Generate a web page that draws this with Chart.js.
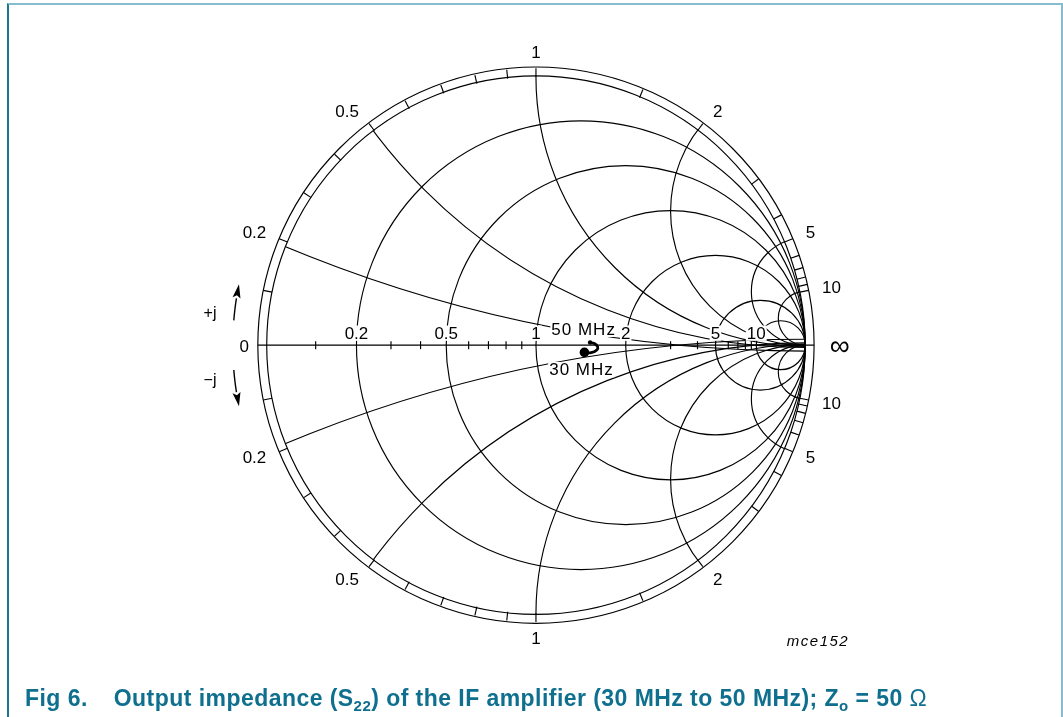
<!DOCTYPE html>
<html>
<head>
<meta charset="utf-8">
<title>Fig 6 - Output impedance (S22)</title>
<script src="https://cdn.jsdelivr.net/npm/chart.js@4.4.0/dist/chart.umd.min.js"></script>
<style>
  html,body{margin:0;padding:0;background:#fff;}
  #page{position:relative;width:1063px;height:717px;overflow:hidden;font-family:"Liberation Sans",Arial,sans-serif;}
  #frame{position:absolute;left:7px;top:3px;width:1052px;height:760px;border-left:2px solid #1b7892;border-right:2px solid #86bccd;border-top:2px solid #86bccd;}
  #smith{position:absolute;left:0;top:0;}
  #caption{position:absolute;left:25px;top:687px;font-weight:bold;font-size:23px;line-height:23px;color:#0f6f8f;white-space:pre;letter-spacing:0.45px;}
  #caption sub{font-size:15px;vertical-align:-5px;line-height:0;}
  #caption .gap{display:inline-block;width:26px;}
  #caption .om{font-weight:normal;}
</style>
</head>
<body>
<div id="page">
  <div id="frame"></div>
  <canvas id="smith" width="1063" height="717"></canvas>
  <div id="caption">Fig 6.<span class="gap"></span>Output impedance (S<sub>22</sub>) of the IF amplifier (30 MHz to 50 MHz); Z<sub>o</sub> = 50 <span class="om">Ω</span></div>
</div>
<script>
/* ---- data (reflection coefficient) ---- */
const freqMHz = [30, 34, 38, 42, 46, 50];
const gammaRe = [0.180, 0.205, 0.226, 0.229, 0.217, 0.201];
const gammaIm = [-0.027, -0.028, -0.018, -0.006, 0.006, 0.010];
const freqLabels = ['30 MHz', '50 MHz'];

/* ---- smith chart grid values ---- */
const rCircles = [0.2, 0.5, 1, 2, 5, 10];
const xArcs = [0.2, 0.5, 1, 2, 5, 10];
const rLabels = ['0.2', '0.5', '1', '2', '5', '10'];
const xLabels = ['0.2', '0.5', '1', '2', '5', '10'];
const axisTicks = [0.1, 0.3, 0.4, 0.6, 0.7, 0.8, 0.9, 3, 4, 6, 7, 8, 9];
const rimTicks = [0.1, 0.2, 0.3, 0.4, 0.5, 0.6, 0.7, 0.8, 0.9, 1, 1.5, 2, 3, 4, 5, 6, 7, 8, 9, 10];

/* ---- layout ---- */
const W = 1063, H = 717, CX = 536, CY = 345, RPX = 271.7, RING = 1.033;
const FONT = '"Liberation Sans", Arial, sans-serif';

function tag(ctx, txt, x, y, size, bg, spacing){
    ctx.font = size + 'px ' + FONT;
    ctx.letterSpacing = (spacing || 0) + 'px';
    const w = ctx.measureText(txt).width;
    if(bg){ ctx.fillStyle = '#fff'; ctx.fillRect(x - w/2 - 1, y - size*0.45, w + 2, size*0.9); }
    ctx.fillStyle = '#000'; ctx.textAlign = 'center'; ctx.textBaseline = 'middle';
    ctx.fillText(txt, x, y + 1);
    ctx.letterSpacing = '0px';
    return w;
}

const smithPlugin = {
    id: 'smith',
    beforeDatasetsDraw(chart){
        const ctx = chart.ctx, sx = chart.scales.x, sy = chart.scales.y;
        const X = v => sx.getPixelForValue(v), Y = v => sy.getPixelForValue(v);
        const cx = X(0), cy = Y(0), R = X(1) - cx;
        const circle = (x, y, r) => { ctx.beginPath(); ctx.arc(x, y, r, 0, 2*Math.PI); ctx.stroke(); };
        const line = (x1, y1, x2, y2) => { ctx.beginPath(); ctx.moveTo(x1, y1); ctx.lineTo(x2, y2); ctx.stroke(); };
        ctx.save();
        ctx.strokeStyle = '#000'; ctx.lineWidth = 1.15;

        // rim + outer scale ring
        circle(cx, cy, R); circle(cx, cy, R*RING);
        line(X(-RING), cy, X(RING), cy);

        // constant resistance circles
        rCircles.forEach(r => circle(X(r/(1+r)), cy, R/(1+r)));

        // constant reactance arcs, clipped to |gamma| = 1
        ctx.save();
        ctx.beginPath(); ctx.arc(cx, cy, R, 0, 2*Math.PI); ctx.clip();
        xArcs.forEach(v => { circle(X(1), Y(1/v), R/v); circle(X(1), Y(-1/v), R/v); });
        ctx.restore();

        // ticks in the outer ring
        rimTicks.forEach(v => [v, -v].forEach(s => {
            const d = s*s + 1, ux = (s*s - 1)/d, uy = 2*s/d;
            line(X(ux), Y(uy), X(ux*RING), Y(uy*RING));
        }));
        // ticks on the real axis
        axisTicks.forEach(r => { const g = (r - 1)/(r + 1); line(X(g), cy - 4, X(g), cy + 4); });

        // resistance labels on the axis
        rCircles.forEach((r, i) => tag(ctx, rLabels[i], X((r - 1)/(r + 1)), cy - 12, 17, true));

        // reactance labels round the rim
        ctx.font = '17px ' + FONT;
        xArcs.forEach((v, i) => [1, -1].forEach(sg => {
            const d = v*v + 1, ux = (v*v - 1)/d, uy = 2*v/d;
            const w = ctx.measureText(xLabels[i]).width;
            const px = cx + 1.065*R*ux + (Math.abs(ux) > 0.01 ? (w/2 + 5)*Math.sign(ux) : 0);
            const py = cy - sg*(1.065*R*uy + 6*uy);
            tag(ctx, xLabels[i], px, py, 17, false);
        }));
        tag(ctx, '0', cx - 1.065*R - 5, cy + 1, 17, false);
        tag(ctx, '\u221e', cx + 1.08*R + 13, cy + 1, 28, false);

        // frequency markers
        tag(ctx, freqLabels[1], X(0.177), Y(0.059), 17, true, 1);
        tag(ctx, freqLabels[0], X(0.169), Y(-0.091), 17, true, 1);

        // +j / -j direction arrows
        const arrow = (a0, a1) => {
            const ra = 1.126*R, rad = Math.PI/180;
            const pt = (a, r) => [cx + r*Math.cos(a*rad), cy - r*Math.sin(a*rad)];
            const dir = Math.sign(a1 - a0), aBase = a1 - dir*2.6;
            ctx.lineWidth = 1.4;
            ctx.beginPath();
            for(let a = a0; dir*(a - aBase) <= 0; a += dir*0.2){ const p = pt(a, ra); ctx.lineTo(p[0], p[1]); }
            ctx.stroke();
            const t = pt(a1, ra), b1 = pt(aBase, ra - 4), b2 = pt(aBase, ra + 4), m = pt(aBase + dir*0.5, ra);
            ctx.fillStyle = '#000';
            ctx.beginPath(); ctx.moveTo(t[0], t[1]); ctx.lineTo(b1[0], b1[1]); ctx.lineTo(m[0], m[1]); ctx.lineTo(b2[0], b2[1]); ctx.closePath(); ctx.fill();
        };
        arrow(175.3, 168.4);
        arrow(184.7, 191.6);
        tag(ctx, '+j', 210, 313, 16, false);
        tag(ctx, '\u2212j', 210, 380, 16, false);

        // figure code
        ctx.font = 'italic 15px ' + FONT;
        ctx.letterSpacing = '1.5px';
        ctx.fillStyle = '#000'; ctx.textAlign = 'center'; ctx.textBaseline = 'middle';
        ctx.fillText('mce152', 818, 642);
        ctx.letterSpacing = '0px';
        ctx.restore();
    }
};

const points = freqMHz.map((f, i) => ({x: gammaRe[i], y: gammaIm[i]}));

new Chart(document.getElementById('smith'), {
    type: 'scatter',
    data: {
        datasets: [{
            data: points,
            showLine: true,
            borderColor: '#000',
            borderWidth: 2.8,
            tension: 0.45,
            pointRadius: freqMHz.map((f, i) => i === 0 ? 4.8 : (i === freqMHz.length - 1 ? 2.2 : 0)),
            pointBackgroundColor: '#000',
            pointBorderWidth: 0
        }]
    },
    options: {
        responsive: false,
        animation: false,
        events: [],
        layout: {padding: 0},
        plugins: {legend: {display: false}, tooltip: {enabled: false}},
        scales: {
            x: {type: 'linear', display: false, min: -CX/RPX, max: (W - CX)/RPX},
            y: {type: 'linear', display: false, min: -(H - CY)/RPX, max: CY/RPX}
        }
    },
    plugins: [smithPlugin]
});
</script>
</body>
</html>
